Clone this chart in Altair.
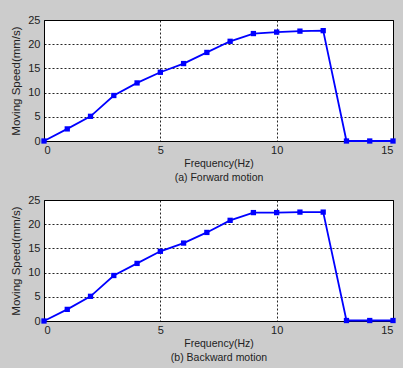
import altair as alt
import pandas as pd

freq = list(range(16))
forward = [0, 2.5, 5.1, 9.4, 12.0, 14.2, 16.0, 18.3, 20.6, 22.2, 22.5, 22.7, 22.8, 0, 0, 0]
backward = [0, 2.4, 5.1, 9.4, 11.9, 14.4, 16.1, 18.3, 20.8, 22.4, 22.4, 22.5, 22.5, 0.1, 0.1, 0.1]
captions = ["(a) Forward motion", "(b) Backward motion"]

FONT = "Liberation Sans"


def panel(values, caption):
    df = pd.DataFrame({"f": freq, "v": values})
    x = alt.X("f:Q", scale=alt.Scale(domain=[0, 15], nice=False, zero=False),
              axis=alt.Axis(values=[0, 5, 10, 15], title=["Frequency(Hz)", caption],
                            grid=True, gridColor="black", gridDash=[2, 2], gridOpacity=0.85,
                            ticks=False, domain=False, labelPadding=3, titlePadding=3,
                            labelFont=FONT, labelFontSize=11, labelColor="#222",
                            titleFont=FONT, titleFontSize=10.5, titleFontWeight="normal",
                            titleColor="#222", titleLineHeight=14))
    y = alt.Y("v:Q", scale=alt.Scale(domain=[0, 25], nice=False),
              axis=alt.Axis(values=[0, 5, 10, 15, 20, 25], title="Moving Speed(mm/s)",
                            grid=True, gridColor="black", gridDash=[2, 2], gridOpacity=0.85,
                            ticks=False, domain=False, labelPadding=4, titlePadding=6,
                            labelFont=FONT, labelFontSize=11, labelColor="#222",
                            titleFont=FONT, titleFontSize=11.5, titleFontWeight="normal",
                            titleColor="#222"))
    line = alt.Chart(df).mark_line(color="#0000ff", strokeWidth=1.8).encode(x=x, y=y)
    pts = alt.Chart(df).mark_square(color="#0000ff", size=28, opacity=1).encode(x=x, y=y)
    return alt.layer(line, pts).properties(width=349, height=121)


chart = alt.vconcat(panel(forward, captions[0]), panel(backward, captions[1]), spacing=10).properties(
    background="#cccccc",
    padding={"left": 10, "top": 13, "right": 5, "bottom": 5},
).configure_view(stroke="black", strokeWidth=1, fill="white")

chart.save("out.html", embed_options={"renderer": "svg", "actions": False})
